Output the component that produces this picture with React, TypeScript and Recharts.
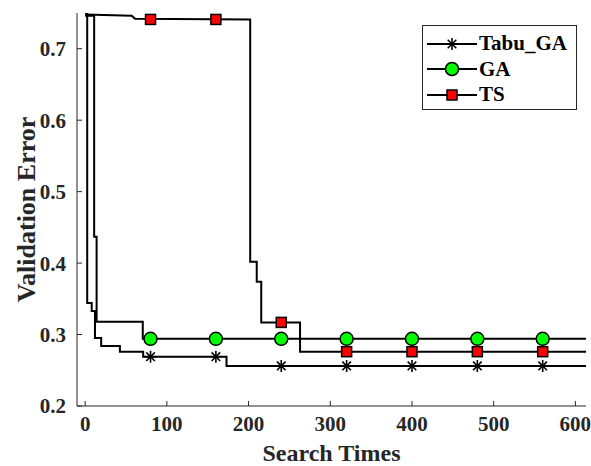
import { ComposedChart, Line, XAxis, YAxis } from "recharts";

const xTicks = [0, 100, 200, 300, 400, 500, 600];
const yTicks = [0.2, 0.3, 0.4, 0.5, 0.6, 0.7];

// step curves, vertices
const tabuGaX = [0, 2.5, 2.5, 8, 8, 12, 12, 19.6, 19.6, 42.5, 42.5, 71, 71, 173, 173, 613];
const tabuGaY = [0.75, 0.75, 0.344, 0.344, 0.333, 0.333, 0.295, 0.295, 0.284, 0.284, 0.276, 0.276, 0.269, 0.269, 0.256, 0.256];

const gaX = [0, 11, 11, 14, 14, 70.5, 70.5, 613];
const gaY = [0.746, 0.746, 0.437, 0.437, 0.318, 0.318, 0.294, 0.294];

const tsX = [0, 57, 61, 202, 202, 210, 210, 215.5, 215.5, 263, 263, 613];
const tsY = [0.748, 0.746, 0.742, 0.741, 0.402, 0.402, 0.374, 0.374, 0.317, 0.317, 0.276, 0.276];

// marker positions
const markX = [80, 160, 240, 320, 400, 480, 560];
const tabuGaMark = [0.269, 0.269, 0.256, 0.256, 0.256, 0.256, 0.256];
const gaMark = [0.294, 0.294, 0.294, 0.294, 0.294, 0.294, 0.294];
const tsMark = [0.741, 0.741, 0.317, 0.276, 0.276, 0.276, 0.276];

const pts = (xs: number[], ys: number[]) => xs.map((x, i) => ({ x, y: ys[i] }));

const FONT = "Liberation Serif, Times New Roman, Times, serif";
const INK = "#262626";

const Star = ({ cx, cy }: { cx: number; cy: number }) => {
  const r = 6;
  const d = 4.3;
  return (
    <g stroke="#000" strokeWidth={1.6}>
      <line x1={cx - r} y1={cy} x2={cx + r} y2={cy} />
      <line x1={cx} y1={cy - r} x2={cx} y2={cy + r} />
      <line x1={cx - d} y1={cy - d} x2={cx + d} y2={cy + d} />
      <line x1={cx - d} y1={cy + d} x2={cx + d} y2={cy - d} />
    </g>
  );
};

const Circ = ({ cx, cy }: { cx: number; cy: number }) => (
  <circle cx={cx} cy={cy} r={6.5} fill="#00ff00" stroke="#000" strokeWidth={1.5} />
);

const Sq = ({ cx, cy }: { cx: number; cy: number }) => (
  <rect x={cx - 5} y={cy - 5} width={10} height={10} fill="#ff0000" stroke="#000" strokeWidth={1.5} />
);

const legendItems = [
  { name: "Tabu_GA", M: Star },
  { name: "GA", M: Circ },
  { name: "TS", M: Sq },
];

const LegendBox = () => (
  <div
    style={{
      position: "absolute",
      left: 422,
      top: 25,
      border: `1px solid ${INK}`,
      background: "#fff",
      width: 155,
      height: 85,
      boxSizing: "border-box",
      paddingTop: 5,
    }}
  >
    {legendItems.map(({ name, M }) => (
      <div key={name} style={{ display: "flex", alignItems: "center", height: 25.5 }}>
        <svg width={52} height={20} style={{ marginLeft: 4 }}>
          <line x1={0} y1={10} x2={50} y2={10} stroke="#000" strokeWidth={2} />
          <M cx={25} cy={10} />
        </svg>
        <span style={{ fontFamily: FONT, fontWeight: "bold", fontSize: 21, color: "#000", lineHeight: 1 }}>
          {name}
        </span>
      </div>
    ))}
  </div>
);

const tickStyle = { fontFamily: FONT, fontWeight: "bold" as const, fontSize: 21, fill: INK };
const titleStyle = { fontFamily: FONT, fontWeight: "bold" as const, fontSize: 24, fill: INK };

export default function App() {
  return (
    <div style={{ position: "absolute", left: 0, top: 0, width: 591, height: 466, background: "#fff" }}>
      <ComposedChart width={591} height={466} margin={{ top: 13, right: 5, bottom: 0, left: 0 }}>
        <XAxis
          xAxisId="b"
          type="number"
          dataKey="x"
          domain={[-10, 613]}
          ticks={xTicks}
          allowDataOverflow
          height={60}
          tickSize={-5}
          tickMargin={15}
          stroke={INK}
          tick={tickStyle}
          label={{ value: "Search Times", position: "insideBottom", offset: 5, style: titleStyle }}
        />
        <XAxis
          xAxisId="t"
          orientation="top"
          type="number"
          dataKey="x"
          domain={[-10, 613]}
          ticks={xTicks}
          allowDataOverflow
          height={0}
          tickSize={-5}
          tick={false}
          stroke={INK}
        />
        <YAxis
          yAxisId="l"
          type="number"
          domain={[0.2, 0.75]}
          ticks={yTicks}
          allowDataOverflow
          width={77}
          tickSize={-5}
          tickMargin={16}
          stroke={INK}
          tick={tickStyle}
          label={{
            value: "Validation Error",
            angle: -90,
            position: "insideLeft",
            offset: 26,
            style: { ...titleStyle, fontSize: 26, textAnchor: "middle" },
          }}
        />
        <YAxis
          yAxisId="r"
          orientation="right"
          type="number"
          domain={[0.2, 0.75]}
          ticks={yTicks}
          allowDataOverflow
          width={0}
          tickSize={-5}
          tick={false}
          stroke={INK}
        />
        <Line xAxisId="b" yAxisId="l" data={pts(tabuGaX, tabuGaY)} dataKey="y" stroke="#000" strokeWidth={2} dot={false} isAnimationActive={false} />
        <Line xAxisId="b" yAxisId="l" data={pts(gaX, gaY)} dataKey="y" stroke="#000" strokeWidth={2} dot={false} isAnimationActive={false} />
        <Line xAxisId="b" yAxisId="l" data={pts(tsX, tsY)} dataKey="y" stroke="#000" strokeWidth={2} dot={false} isAnimationActive={false} />
        <Line
          xAxisId="b"
          yAxisId="l"
          data={pts(markX, tabuGaMark)}
          dataKey="y"
          stroke="none"
          dot={(p: any) => <Star key={`s${p.index}`} cx={p.cx} cy={p.cy} />}
          isAnimationActive={false}
        />
        <Line
          xAxisId="b"
          yAxisId="l"
          data={pts(markX, gaMark)}
          dataKey="y"
          stroke="none"
          dot={(p: any) => <Circ key={`c${p.index}`} cx={p.cx} cy={p.cy} />}
          isAnimationActive={false}
        />
        <Line
          xAxisId="b"
          yAxisId="l"
          data={pts(markX, tsMark)}
          dataKey="y"
          stroke="none"
          dot={(p: any) => <Sq key={`q${p.index}`} cx={p.cx} cy={p.cy} />}
          isAnimationActive={false}
        />
      </ComposedChart>
      <LegendBox />
    </div>
  );
}
